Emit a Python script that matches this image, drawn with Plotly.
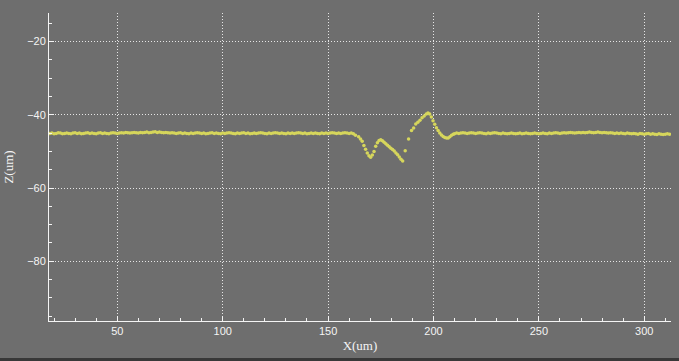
import plotly.graph_objects as go

# ---- data (X in um, Z in um) ----
x_left = list(range(18, 164))
z_left = [
    -45.1, -45.0, -45.2, -45.1, -44.9, -45.0, -45.2, -45.1, -45.0, -45.1,
    -45.2, -45.0, -44.9, -45.1, -45.0, -45.2, -45.1, -45.0, -44.9, -45.1,
    -45.0, -45.1, -45.2, -45.0, -44.9, -45.1, -45.0, -45.1, -45.2, -45.0,
    -44.9, -45.0, -45.1, -45.0, -44.9, -45.0, -44.8, -44.9, -45.0, -44.9,
    -44.8, -44.9, -45.0, -44.8, -44.9, -44.8, -44.7, -44.9, -44.8, -44.7,
    -44.6, -44.8, -44.7, -44.8, -44.9, -44.8, -44.9, -45.0, -44.9, -45.0,
    -45.1, -45.0, -44.9, -45.1, -45.0, -45.1, -45.2, -45.0, -45.1, -45.0,
    -44.9, -45.0, -45.1, -45.0, -45.2, -45.1, -45.0, -44.9, -45.1, -45.0,
    -45.1, -45.2, -45.0, -45.1, -45.0, -44.9, -45.0, -45.1, -45.2, -45.0,
    -45.1, -45.0, -44.9, -45.1, -45.0, -45.2, -45.1, -45.0, -45.1, -45.0,
    -44.9, -45.0, -45.1, -45.2, -45.0, -45.1, -45.0, -44.9, -45.0, -45.1,
    -45.0, -45.1, -45.2, -45.0, -45.1, -45.0, -45.1, -45.0, -44.9, -45.0,
    -45.1, -45.0, -45.2, -45.1, -45.0, -45.1, -45.0, -45.1, -45.2, -45.0,
    -45.1, -45.0, -45.1, -45.0, -44.9, -45.0, -45.1, -45.0, -45.1, -45.0,
    -44.9, -45.0, -45.1, -45.0, -45.2, -45.6,
]

x_defect = [
    164.5, 165.4, 166.2, 167.0, 167.8, 168.6, 169.4, 170.2, 171.0, 171.8,
    172.6, 173.4, 174.2, 175.0, 175.8, 176.6, 177.4, 178.2, 179.0, 179.8,
    180.6, 181.4, 182.2, 183.0, 183.8, 184.6, 185.4, 186.6, 188.2, 189.6,
    190.6, 191.6, 192.6, 193.6, 194.6, 195.6, 196.6, 197.4, 198.2, 199.0,
    199.8, 200.6, 201.4, 202.2, 203.0, 203.8, 204.6, 205.4, 206.2, 207.0,
    207.8, 208.6, 209.4,
]
z_defect = [
    -46.0, -46.6, -47.2, -48.4, -49.4, -50.4, -51.2, -51.6, -51.0, -50.0,
    -48.6, -47.6, -47.0, -46.8, -47.1, -47.5, -47.9, -48.3, -48.7, -49.1,
    -49.5, -49.9, -50.4, -50.9, -51.5, -52.1, -52.6, -49.8, -46.6, -44.3,
    -43.6, -42.5, -42.0, -41.5, -40.8, -40.3, -39.8, -39.5, -39.8, -40.6,
    -41.6, -42.6, -43.5, -44.3, -45.0, -45.5, -45.9, -46.2, -46.3, -46.3,
    -46.0, -45.6, -45.3,
]

x_right = list(range(210, 313))
z_right = [
    -45.2, -45.0, -45.1, -45.0, -44.9, -45.0, -45.1, -45.0, -44.9, -45.0,
    -45.1, -45.0, -44.9, -45.0, -45.1, -45.2, -45.0, -45.1, -45.0, -44.9,
    -45.0, -45.1, -45.2, -45.0, -45.1, -45.2, -45.1, -45.0, -45.1, -45.2,
    -45.1, -45.0, -45.2, -45.1, -45.0, -45.1, -45.2, -45.1, -45.0, -45.1,
    -45.2, -45.1, -45.0, -45.1, -45.2, -45.0, -45.1, -45.0, -44.9, -45.0,
    -45.1, -45.0, -44.9, -45.0, -44.9, -44.8, -44.9, -45.0, -44.9, -44.8,
    -44.9, -44.8, -44.9, -44.8, -44.7, -44.8, -44.9, -44.8, -44.7, -44.8,
    -44.9, -44.8, -44.9, -45.0, -44.9, -45.0, -45.1, -45.0, -45.1, -45.0,
    -45.1, -45.2, -45.0, -45.1, -45.2, -45.1, -45.2, -45.3, -45.1, -45.2,
    -45.3, -45.2, -45.1, -45.3, -45.2, -45.3, -45.4, -45.2, -45.3, -45.4,
    -45.3, -45.2, -45.3,
]

x_all = x_left + x_defect + x_right
z_all = z_left + z_defect + z_right

x_title = "X(um)"
y_title = "Z(um)"

BG = "rgb(110,110,110)"
DOT = "#d6d65c"
WHITE = "#f4f4f4"

fig = go.Figure()
fig.add_trace(go.Scatter(
    x=x_all, y=z_all, mode="markers",
    marker=dict(color=DOT, size=3.5, line=dict(width=0)),
    hoverinfo="skip", showlegend=False,
))

tickfont = dict(family="Liberation Sans", size=11, color=WHITE)
titlefont = dict(family="Liberation Serif", size=13, color=WHITE)

fig.update_layout(
    width=679, height=361,
    margin=dict(l=49, r=8, t=13, b=40, pad=0),
    paper_bgcolor=BG, plot_bgcolor=BG,
    xaxis=dict(
        range=[17.6, 312.7], dtick=50, tick0=0,
        showline=True, linecolor=WHITE, linewidth=1,
        ticks="inside", ticklen=5, tickcolor=WHITE, tickwidth=1,
        minor=dict(dtick=10, tick0=0, ticks="inside", ticklen=3,
                   tickcolor=WHITE, showgrid=False),
        showgrid=True, gridcolor="#e6e6e6", gridwidth=1, griddash="1px,2px",
        zeroline=False, tickfont=tickfont,
        title=dict(text=x_title, font=titlefont, standoff=4),
    ),
    yaxis=dict(
        range=[-96.3, -12.2], dtick=20, tick0=0,
        showline=True, linecolor=WHITE, linewidth=1,
        ticks="inside", ticklen=5, tickcolor=WHITE, tickwidth=1,
        minor=dict(dtick=5, tick0=0, ticks="inside", ticklen=3,
                   tickcolor=WHITE, showgrid=False),
        showgrid=True, gridcolor="#e6e6e6", gridwidth=1, griddash="1px,2px",
        zeroline=False, tickfont=tickfont,
        title=dict(text=y_title, font=titlefont, standoff=10),
    ),
    shapes=[dict(type="rect", xref="paper", yref="paper",
                 x0=-0.2, x1=1.2, y0=-0.1201, y1=-0.3,
                 fillcolor="#383838", line=dict(width=0), layer="below")],
)

fig.write_html("out.html")
